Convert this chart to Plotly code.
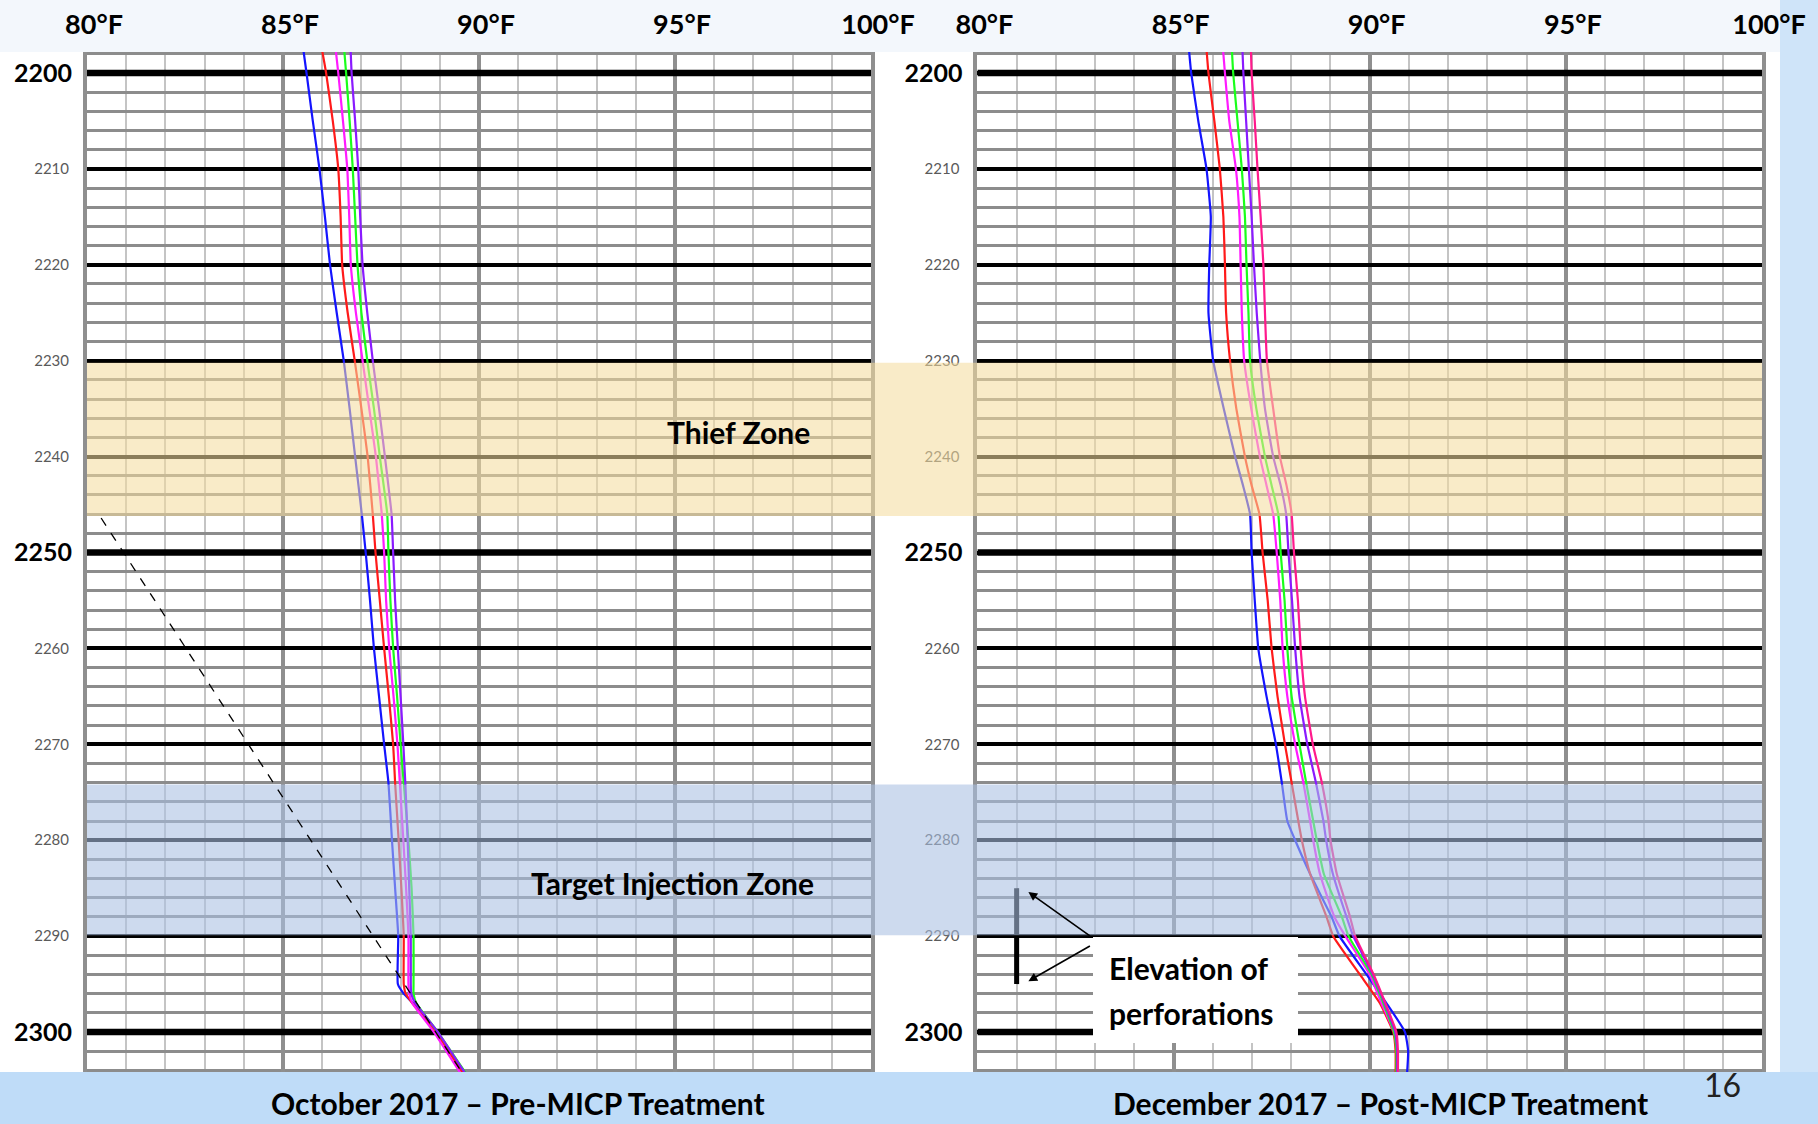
import plotly.graph_objects as go

W, H = 1818, 1124

def pxx(p):
    return p / W

def pxy(p):
    return 1 - p / H

FONT = "Lato, Carlito, Liberation Sans Narrow, sans-serif"

# ---------------- data ----------------
temp_ticks = [80, 85, 90, 95, 100]
temp_labels = ["80°F", "85°F", "90°F", "95°F", "100°F"]
depth_ticks = [2200, 2210, 2220, 2230, 2240, 2250, 2260, 2270, 2280, 2290, 2300]
major_depths = [2200, 2250, 2300]

thief_zone = [2230.2, 2246.2]
target_zone = [2274.2, 2289.9]
perforations = [2285.0, 2295.0]

depth_pre = [2197, 2200, 2205, 2210, 2215, 2220, 2225, 2230, 2235, 2240, 2246, 2250, 2255,
             2260, 2265, 2270, 2274, 2280, 2285, 2290, 2295, 2296, 2297, 2300, 2304.5]
pre_blue = [85.50, 85.60, 85.76, 85.93, 86.07, 86.20, 86.37, 86.55, 86.70, 86.84, 87.01, 87.11, 87.22,
            87.32, 87.45, 87.58, 87.69, 87.78, 87.86, 87.94, 87.93, 88.08, 88.32, 88.92, 89.68]
pre_red = [85.97, 86.10, 86.27, 86.41, 86.47, 86.51, 86.65, 86.83, 87.00, 87.16, 87.29, 87.36, 87.47,
           87.58, 87.70, 87.81, 87.86, 87.95, 88.02, 88.08, 88.08, 88.13, 88.30, 88.90, 89.62]
pre_magenta = [86.33, 86.41, 86.53, 86.64, 86.69, 86.73, 86.86, 87.03, 87.20, 87.37, 87.52, 87.58, 87.63,
               87.71, 87.82, 87.92, 87.98, 88.07, 88.14, 88.20, 88.20, 88.22, 88.30, 88.85, 89.56]
pre_green = [86.55, 86.61, 86.70, 86.78, 86.84, 86.90, 87.00, 87.15, 87.32, 87.47, 87.66, 87.69, 87.74,
             87.81, 87.91, 88.00, 88.08, 88.20, 88.28, 88.33, 88.33, 88.33, 88.40, 88.95, 89.70]
pre_purple = [86.72, 86.75, 86.84, 86.92, 86.97, 87.03, 87.15, 87.29, 87.45, 87.60, 87.77, 87.81, 87.86,
              87.93, 88.00, 88.07, 88.12, 88.18, 88.22, 88.26, 88.26, 88.27, 88.38, 88.95, 89.68]

depth_post = [2197, 2200, 2205, 2210, 2215, 2220, 2225, 2230, 2235, 2240, 2243, 2246, 2250, 2255,
              2260, 2265, 2270, 2274, 2278, 2280, 2283.5, 2288, 2290, 2294, 2297, 2300, 2302, 2304.5]
post_blue = [85.38, 85.45, 85.63, 85.84, 85.95, 85.91, 85.89, 86.01, 86.28, 86.57, 86.77, 86.95, 86.99, 87.07,
             87.16, 87.37, 87.61, 87.76, 87.90, 88.10, 88.48, 89.03, 89.23, 89.92, 90.43, 90.90, 90.98, 90.95]
post_red = [85.83, 85.89, 86.04, 86.18, 86.27, 86.31, 86.34, 86.44, 86.60, 86.82, 86.99, 87.19, 87.27, 87.40,
            87.50, 87.65, 87.84, 88.01, 88.18, 88.27, 88.48, 88.90, 89.07, 89.75, 90.26, 90.60, 90.66, 90.66]
post_magenta = [86.25, 86.31, 86.42, 86.59, 86.68, 86.71, 86.74, 86.80, 86.98, 87.20, 87.37, 87.54, 87.63, 87.72,
                87.78, 87.90, 88.10, 88.31, 88.48, 88.56, 88.73, 89.10, 89.38, 90.00, 90.30, 90.62, 90.70, 90.70]
post_green = [86.48, 86.52, 86.63, 86.74, 86.82, 86.86, 86.91, 86.95, 87.11, 87.33, 87.50, 87.67, 87.73, 87.83,
              87.90, 88.01, 88.21, 88.38, 88.56, 88.65, 88.83, 89.29, 89.46, 90.05, 90.35, 90.62, 90.68, 90.68]
post_purple = [86.75, 86.78, 86.85, 86.92, 86.99, 87.05, 87.12, 87.21, 87.33, 87.54, 87.73, 87.87, 87.93, 88.02,
               88.10, 88.21, 88.41, 88.63, 88.82, 88.89, 89.06, 89.41, 89.58, 90.08, 90.38, 90.65, 90.70, 90.70]
post_pink = [86.97, 86.99, 87.07, 87.14, 87.22, 87.29, 87.33, 87.38, 87.54, 87.71, 87.88, 88.01, 88.07, 88.17,
             88.24, 88.35, 88.55, 88.78, 88.95, 89.00, 89.16, 89.50, 89.63, 90.10, 90.40, 90.68, 90.72, 90.72]

# dashed reference line (temperature, depth)
dash_temp = [80.36, 89.72]
dash_depth = [2246.4, 2305.2]

# ---------------- figure ----------------
fig = go.Figure()

pre_series = [("#1414ff", pre_blue), ("#ff1a1a", pre_red), ("#ff1aff", pre_magenta),
              ("#1aff1a", pre_green), ("#8a1aff", pre_purple)]
post_series = [("#1414ff", post_blue), ("#ff1a1a", post_red), ("#ff1aff", post_magenta),
               ("#1aff1a", post_green), ("#8a1aff", post_purple), ("#ff1a8c", post_pink)]

for color, vals in pre_series:
    fig.add_trace(go.Scatter(x=vals, y=depth_pre, mode="lines", xaxis="x", yaxis="y",
                             line=dict(color=color, width=2.2, shape="spline", smoothing=0.4),
                             showlegend=False, hoverinfo="skip"))
for color, vals in post_series:
    fig.add_trace(go.Scatter(x=vals, y=depth_post, mode="lines", xaxis="x2", yaxis="y2",
                             line=dict(color=color, width=2.2, shape="spline", smoothing=0.4),
                             showlegend=False, hoverinfo="skip"))

# invisible carriers so the bold depth-label axes are rendered
for xa, ya in (("x", "y3"), ("x2", "y4")):
    fig.add_trace(go.Scatter(x=[temp_ticks[0]] * len(major_depths), y=major_depths, mode="markers",
                             xaxis=xa, yaxis=ya, marker=dict(opacity=0, size=1),
                             showlegend=False, hoverinfo="skip"))

y_range = [2309.59, 2197.81]
ydom = [0, pxy(52)]

minor_text = ["" if d in major_depths else str(d) for d in depth_ticks]
major_text = [str(d) for d in major_depths]

xcommon = dict(range=[80, 100], tickvals=temp_ticks, ticktext=temp_labels, side="top",
               ticks="", showline=False, zeroline=False, automargin=False,
               showgrid=True, gridcolor="#8f8f8f", gridwidth=4,
               minor=dict(dtick=1, tick0=80, showgrid=True, gridcolor="#c4c4c4", gridwidth=1.5),
               tickfont=dict(family=FONT, size=27, color="#000000", weight="bold"),
               ticklabelstandoff=12, ticklabelshift=7, fixedrange=True)
ycommon = dict(range=y_range, domain=ydom, tickvals=depth_ticks, ticktext=minor_text,
               ticks="", zeroline=False, showgrid=True, gridcolor="#000000", gridwidth=3.5,
               minor=dict(dtick=2, tick0=2200, showgrid=True, gridcolor="#8c8c8c", gridwidth=3),
               showline=True, mirror=True, linecolor="#8f8f8f", linewidth=4, automargin=False,
               tickfont=dict(family=FONT, size=15, color="#5a5a5a"),
               ticklabelstandoff=11, fixedrange=True)
ybig = dict(range=y_range, domain=ydom, tickvals=major_depths, ticktext=major_text,
            ticks="", zeroline=False, showgrid=False, showline=False, automargin=False,
            side="left", tickfont=dict(family=FONT, size=25, color="#000000", weight="bold"),
            ticklabelstandoff=14, fixedrange=True)

fig.update_layout(
    width=W, height=H,
    margin=dict(l=0, r=0, t=0, b=0, pad=0, autoexpand=False),
    paper_bgcolor="#ffffff", plot_bgcolor="#ffffff",
    showlegend=False,
    xaxis=dict(domain=[pxx(87), pxx(871)], anchor="y", **xcommon),
    yaxis=dict(anchor="x", **ycommon),
    xaxis2=dict(domain=[pxx(977.4), pxx(1762)], anchor="y2", **xcommon),
    yaxis2=dict(anchor="x2", **ycommon),
    yaxis3=dict(anchor="x", overlaying="y", **ybig),
    yaxis4=dict(anchor="x2", overlaying="y2", **ybig),
)

shapes = []
# background bands (below)
shapes.append(dict(type="rect", xref="paper", yref="paper", x0=0, x1=1, y0=pxy(52), y1=1,
                   fillcolor="#f3f7fc", line=dict(width=0), layer="below"))
shapes.append(dict(type="rect", xref="paper", yref="paper", x0=pxx(1780), x1=1, y0=0, y1=1,
                   fillcolor="#cfe4f9", line=dict(width=0), layer="below"))
# thick depth lines
for xr, yr in (("x", "y"), ("x2", "y2")):
    for d in major_depths:
        shapes.append(dict(type="line", xref=xr, yref=yr, x0=80, x1=100, y0=d, y1=d,
                           line=dict(color="#000000", width=6.5), layer="between"))
# perforation bar
shapes.append(dict(type="line", xref="x2", yref="y2", x0=81, x1=81,
                   y0=perforations[0], y1=perforations[1],
                   line=dict(color="#000000", width=5), layer="above"))
# zones
shapes.append(dict(type="rect", xref="paper", yref="y", x0=pxx(87), x1=pxx(1762),
                   y0=thief_zone[0], y1=thief_zone[1],
                   fillcolor="rgba(245,220,158,0.57)", line=dict(width=0), layer="above"))
shapes.append(dict(type="rect", xref="paper", yref="y", x0=pxx(87), x1=pxx(1762),
                   y0=target_zone[0], y1=target_zone[1],
                   fillcolor="rgba(170,192,226,0.59)", line=dict(width=0), layer="above"))
# dashed line
shapes.append(dict(type="line", xref="x", yref="y", x0=dash_temp[0], x1=dash_temp[1],
                   y0=dash_depth[0], y1=dash_depth[1],
                   line=dict(color="#000000", width=1.3, dash="dash"), layer="above"))
# text box
shapes.append(dict(type="rect", xref="paper", yref="paper", x0=pxx(1093), x1=pxx(1298),
                   y0=pxy(1043), y1=pxy(937), fillcolor="#ffffff", line=dict(width=0), layer="above"))
# bottom band
shapes.append(dict(type="rect", xref="paper", yref="paper", x0=0, x1=1, y0=0, y1=pxy(1072),
                   fillcolor="#bfdcf8", line=dict(width=0), layer="above"))
fig.update_layout(shapes=shapes)

bold = dict(family=FONT, size=30, color="#000000", weight="bold")
ann = [
    dict(text="Thief Zone", x=pxx(738), y=pxy(432), xref="paper", yref="paper",
         showarrow=False, font=bold, xanchor="center", yanchor="middle"),
    dict(text="Target Injection Zone", x=pxx(672), y=pxy(883), xref="paper", yref="paper",
         showarrow=False, font=bold, xanchor="center", yanchor="middle"),
    dict(text="Elevation of", x=pxx(1107), y=pxy(968), xref="paper", yref="paper",
         showarrow=False, font=bold, xanchor="left", yanchor="middle"),
    dict(text="perforations", x=pxx(1107), y=pxy(1013), xref="paper", yref="paper",
         showarrow=False, font=bold, xanchor="left", yanchor="middle"),
    dict(text="", x=81.3, y=2285.4, xref="x2", yref="y2", ax=63, ay=45,
         showarrow=True, arrowhead=2, arrowsize=1.1, arrowwidth=1.6, arrowcolor="#000000"),
    dict(text="", x=81.3, y=2294.7, xref="x2", yref="y2", ax=63, ay=-36,
         showarrow=True, arrowhead=2, arrowsize=1.1, arrowwidth=1.6, arrowcolor="#000000"),
    dict(text="October 2017 – Pre-MICP Treatment", x=pxx(518), y=pxy(1103), xref="paper", yref="paper",
         showarrow=False, font=dict(family=FONT, size=30, color="#000000", weight="bold"),
         xanchor="center", yanchor="middle"),
    dict(text="December 2017 – Post-MICP Treatment", x=pxx(1380), y=pxy(1103), xref="paper", yref="paper",
         showarrow=False, font=dict(family=FONT, size=30, color="#000000", weight="bold"),
         xanchor="center", yanchor="middle"),
    dict(text="16", x=pxx(1722), y=pxy(1084), xref="paper", yref="paper",
         showarrow=False, font=dict(family=FONT, size=32, color="#222222"),
         xanchor="center", yanchor="middle"),
]
fig.update_layout(annotations=ann)

fig.write_html("out.html")
